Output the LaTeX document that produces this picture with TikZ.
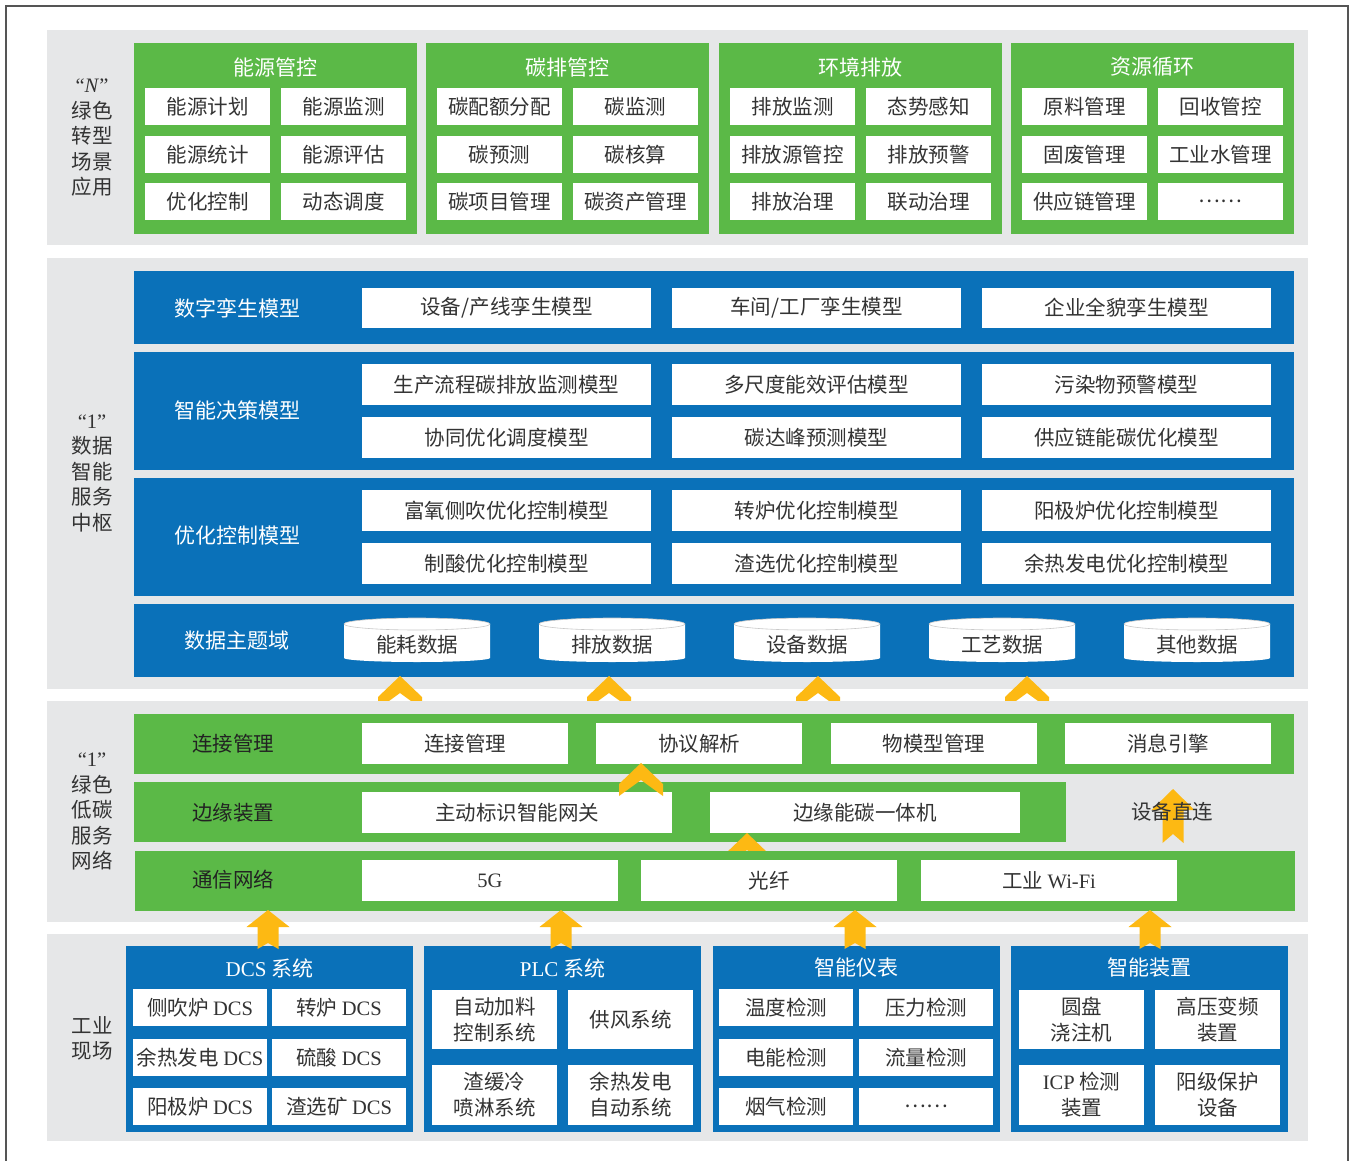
\documentclass[tikz,border=0pt]{standalone}
\usepackage{fontspec}
\setmainfont{Noto Sans CJK SC}
\newfontfamily\lat{Liberation Serif}
\definecolor{bggray}{HTML}{E6E7E8}
\definecolor{grn}{HTML}{5BB947}
\definecolor{blu}{HTML}{0A71B9}
\definecolor{ylw}{HTML}{FDB913}
\definecolor{txt}{HTML}{333333}
\definecolor{dtxt}{HTML}{222222}
\definecolor{framec}{HTML}{555555}
\definecolor{cyledge}{HTML}{C8C8C8}
\tikzset{
  base/.style={inner sep=0pt,outer sep=0pt,align=center,text=txt,
    font=\fontsize{20.5}{26}\selectfont},
  wcell/.style={base,fill=white},
  gbox/.style={base,fill=grn},
  bbox/.style={base,fill=blu},
  graybox/.style={base,fill=bggray},
  ttl/.style={base,text=white,font=\fontsize{21}{26}\selectfont},
  glbl/.style={base,text=dtxt},
  lbl/.style={base,text=txt,font=\fontsize{20.5}{25.5}\selectfont},
  chev/.style={fill=ylw},
}
\newcommand\rbox[7]{\node[#1,minimum width={((#4)-(#2))*1pt},minimum height={((#5)-(#3))*1pt}] (#6) at ({((#2)+(#4))/2},{((#3)+(#5))/2}) {#7};}
\newcommand\mychev[2]{\fill[chev] (#1,#2) -- ({#1+22},{#2+21}) -- ({#1+22},{#2+33}) -- (#1,{#2+17}) -- ({#1-22},{#2+33}) -- ({#1-22},{#2+21}) -- cycle;}
% up arrow: cx, apex, head height, bottom, notch
\newcommand\yarrow[5]{\fill[chev] (#1,#2) -- ({#1+21.5},{#2+#3}) -- ({#1+10.5},{#2+#3}) -- ({#1+10.5},#4) -- (#1,{#4-#5}) -- ({#1-10.5},#4) -- ({#1-10.5},{#2+#3}) -- ({#1-21.5},{#2+#3}) -- cycle;}
\newcommand\mycyl[3]{%
  \fill[white] (#1,624) -- (#1,658) arc[start angle=180,end angle=0,x radius=73,y radius=4] -- ({#1+146},624) -- cycle;
  \draw[cyledge,fill=white,line width=0.6pt] ({#1+73},624) ellipse [x radius=73,y radius=6];
  \node[base] (#2) at ({#1+73},645) {#3};}

\begin{document}
\begin{tikzpicture}[x=1pt,y=-1pt]
\useasboundingbox (0,0) rectangle (1352,1161);
\fill[white] (0,0) rectangle (1352,1161);
\draw[framec,line width=1.5pt] (6,1161) -- (6,6) -- (1348,6) -- (1348,1161);

% ---------------- Section 1 ----------------
\rbox{graybox}{47}{30}{1308}{245}{sec1}{}
\node[lbl] (lab1) at (92,138) {{\lat “\textit{N}”}\\绿色\\转型\\场景\\应用};
\foreach \L/\T/\a/\b/\c/\d/\e/\f [count=\i] in {
  134/能源管控/能源计划/能源监测/能源统计/能源评估/优化控制/动态调度,
  426/碳排管控/碳配额分配/碳监测/碳预测/碳核算/碳项目管理/碳资产管理,
  719/环境排放/排放监测/态势感知/排放源管控/排放预警/排放治理/联动治理,
  1011/资源循环/原料管理/回收管控/固废管理/工业水管理/供应链管理/……}{
  \rbox{gbox}{\L}{43}{\L+283}{234}{nb\i}{}
  \node[ttl] (nt\i) at ({\L+141.5},67) {\T};
  \rbox{wcell}{\L+11}{88}{\L+136}{125}{na\i}{\a}
  \rbox{wcell}{\L+147}{88}{\L+272}{125}{nbb\i}{\b}
  \rbox{wcell}{\L+11}{136}{\L+136}{173}{nc\i}{\c}
  \rbox{wcell}{\L+147}{136}{\L+272}{173}{nd\i}{\d}
  \rbox{wcell}{\L+11}{183}{\L+136}{220}{ne\i}{\e}
  \rbox{wcell}{\L+147}{183}{\L+272}{220}{nf\i}{\f}
}

% ---------------- Section 2 ----------------
\rbox{graybox}{47}{258}{1308}{689}{sec2}{}
\node[lbl] (lab2) at (92,473) {{\lat “1”}\\数据\\智能\\服务\\中枢};

\rbox{bbox}{134}{271}{1294}{344}{m1}{}
\node[ttl] (m1t) at (237,308) {数字孪生模型};
\rbox{wcell}{362}{288}{651}{328}{m1a}{设备/产线孪生模型}
\rbox{wcell}{672}{288}{961}{328}{m1b}{车间/工厂孪生模型}
\rbox{wcell}{982}{288}{1271}{328}{m1c}{企业全貌孪生模型}

\rbox{bbox}{134}{352}{1294}{470}{m2}{}
\node[ttl] (m2t) at (237,410) {智能决策模型};
\rbox{wcell}{362}{364}{651}{405}{m2a}{生产流程碳排放监测模型}
\rbox{wcell}{672}{364}{961}{405}{m2b}{多尺度能效评估模型}
\rbox{wcell}{982}{364}{1271}{405}{m2c}{污染物预警模型}
\rbox{wcell}{362}{417}{651}{458}{m2d}{协同优化调度模型}
\rbox{wcell}{672}{417}{961}{458}{m2e}{碳达峰预测模型}
\rbox{wcell}{982}{417}{1271}{458}{m2f}{供应链能碳优化模型}

\rbox{bbox}{134}{478}{1294}{596}{m3}{}
\node[ttl] (m3t) at (237,536) {优化控制模型};
\rbox{wcell}{362}{490}{651}{531}{m3a}{富氧侧吹优化控制模型}
\rbox{wcell}{672}{490}{961}{531}{m3b}{转炉优化控制模型}
\rbox{wcell}{982}{490}{1271}{531}{m3c}{阳极炉优化控制模型}
\rbox{wcell}{362}{543}{651}{584}{m3d}{制酸优化控制模型}
\rbox{wcell}{672}{543}{961}{584}{m3e}{渣选优化控制模型}
\rbox{wcell}{982}{543}{1271}{584}{m3f}{余热发电优化控制模型}

\rbox{bbox}{134}{604}{1294}{677}{m4}{}
\node[ttl] (m4t) at (237,641) {数据主题域};
\mycyl{344}{d1}{能耗数据}
\mycyl{539}{d2}{排放数据}
\mycyl{734}{d3}{设备数据}
\mycyl{929}{d4}{工艺数据}
\mycyl{1124}{d5}{其他数据}

\mychev{400}{676}
\mychev{609}{676}
\mychev{818}{676}
\mychev{1027}{676}

% ---------------- Section 3 ----------------
\rbox{graybox}{47}{701}{1308}{922}{sec3}{}
\node[lbl] (lab3) at (92,811.5) {{\lat “1”}\\绿色\\低碳\\服务\\网络};

\rbox{gbox}{134}{714}{1294}{774}{g1}{}
\node[glbl] (g1t) at (233,744) {连接管理};
\rbox{wcell}{362}{723}{568}{764}{g1a}{连接管理}
\rbox{wcell}{596}{723}{802}{764}{g1b}{协议解析}
\rbox{wcell}{831}{723}{1037}{764}{g1c}{物模型管理}
\rbox{wcell}{1065}{723}{1271}{764}{g1d}{消息引擎}

\rbox{gbox}{134}{782}{1066}{842}{g2}{}
\node[glbl] (g2t) at (233,813) {边缘装置};
\rbox{wcell}{362}{792}{672}{833}{g2a}{主动标识智能网关}
\rbox{wcell}{710}{792}{1020}{833}{g2b}{边缘能碳一体机}

\mychev{747}{833}

\rbox{gbox}{135}{851}{1295}{911}{g3}{}
\node[glbl] (g3t) at (233,880) {通信网络};
\rbox{wcell}{362}{860}{618}{901}{g3a}{\lat 5G}
\rbox{wcell}{641}{860}{897}{901}{g3b}{光纤}
\rbox{wcell}{921}{860}{1177}{901}{g3c}{工业 {\lat Wi-Fi}}

\mychev{641}{763}

\yarrow{1173}{789}{21}{843}{9}
\node[base] (direct) at (1172,812) {设备直连};

% ---------------- Section 4 ----------------
\rbox{graybox}{47}{934}{1308}{1141}{sec4}{}
\node[lbl] (lab4) at (92,1038.5) {工业\\现场};

\rbox{bbox}{126}{946}{413}{1132}{f1}{}
\node[ttl] (f1t) at (269.5,968) {{\lat DCS} 系统};
\rbox{wcell}{133}{989}{267}{1026}{f1a}{侧吹炉 {\lat DCS}}
\rbox{wcell}{272}{989}{406}{1026}{f1b}{转炉 {\lat DCS}}
\rbox{wcell}{133}{1039}{267}{1076}{f1c}{余热发电 {\lat DCS}}
\rbox{wcell}{272}{1039}{406}{1076}{f1d}{硫酸 {\lat DCS}}
\rbox{wcell}{133}{1088}{267}{1125}{f1e}{阳极炉 {\lat DCS}}
\rbox{wcell}{272}{1088}{406}{1125}{f1f}{渣选矿 {\lat DCS}}

\rbox{bbox}{424}{946}{701}{1132}{f2}{}
\node[ttl] (f2t) at (562.5,968) {{\lat PLC} 系统};
\rbox{wcell}{432}{990}{557}{1049}{f2a}{自动加料\\控制系统}
\rbox{wcell}{568}{990}{693}{1049}{f2b}{供风系统}
\rbox{wcell}{432}{1065}{557}{1125}{f2c}{渣缓冷\\喷淋系统}
\rbox{wcell}{568}{1065}{693}{1125}{f2d}{余热发电\\自动系统}

\rbox{bbox}{713}{946}{1000}{1132}{f3}{}
\node[ttl] (f3t) at (856.5,968) {智能仪表};
\rbox{wcell}{719}{989}{853}{1026}{f3a}{温度检测}
\rbox{wcell}{859}{989}{993}{1026}{f3b}{压力检测}
\rbox{wcell}{719}{1039}{853}{1076}{f3c}{电能检测}
\rbox{wcell}{859}{1039}{993}{1076}{f3d}{流量检测}
\rbox{wcell}{719}{1088}{853}{1125}{f3e}{烟气检测}
\rbox{wcell}{859}{1088}{993}{1125}{f3f}{……}

\rbox{bbox}{1011}{946}{1288}{1132}{f4}{}
\node[ttl] (f4t) at (1149.5,968) {智能装置};
\rbox{wcell}{1019}{990}{1144}{1049}{f4a}{圆盘\\浇注机}
\rbox{wcell}{1155}{990}{1280}{1049}{f4b}{高压变频\\装置}
\rbox{wcell}{1019}{1065}{1144}{1125}{f4c}{{\lat ICP} 检测\\装置}
\rbox{wcell}{1155}{1065}{1280}{1125}{f4d}{阳级保护\\设备}

\yarrow{268}{910}{17}{949}{6}
\yarrow{561}{910}{17}{949}{6}
\yarrow{855}{910}{17}{949}{6}
\yarrow{1150}{910}{17}{949}{6}
\end{tikzpicture}
\end{document}
